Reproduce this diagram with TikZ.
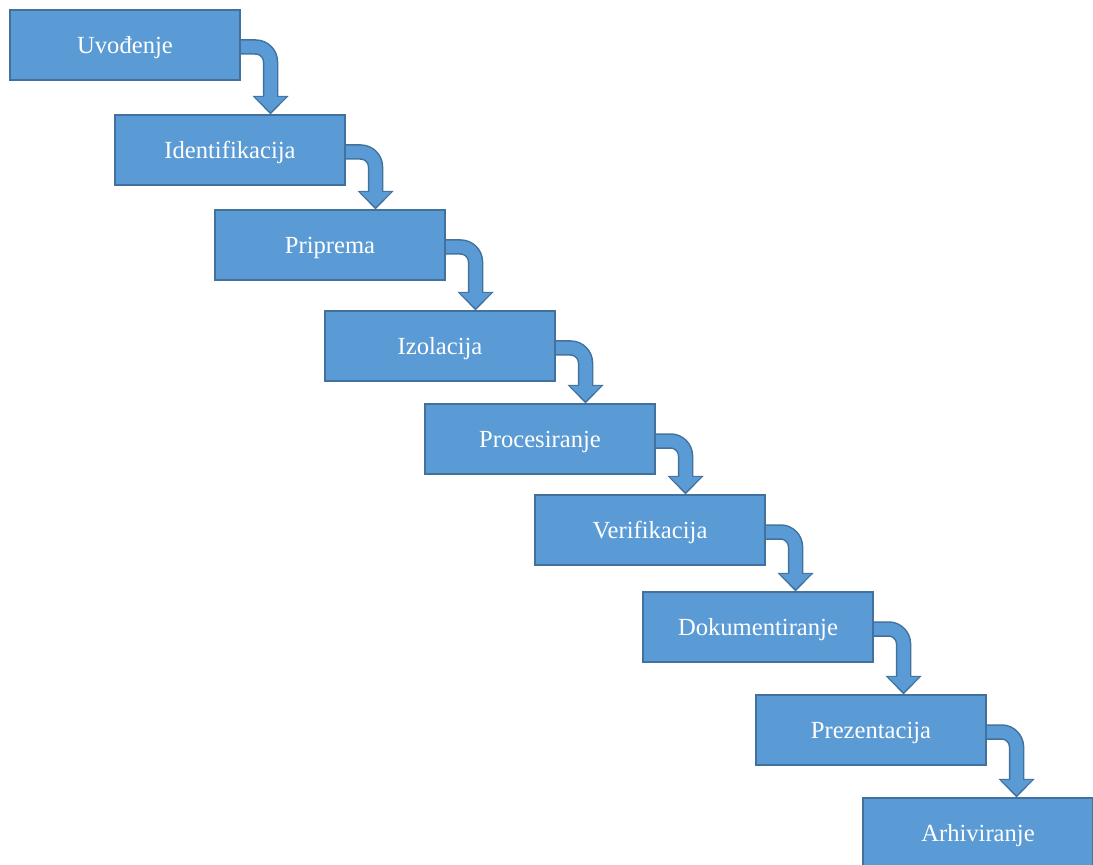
\documentclass[tikz,border=0pt]{standalone}
\usepackage{fontspec}
\setmainfont{Liberation Serif}
\usetikzlibrary{arrows.meta}
\definecolor{boxblue}{HTML}{5B9BD5}
\definecolor{boxedge}{HTML}{41719C}
\tikzset{stepbox/.style={draw=boxedge, line width=0.6pt, fill=boxblue, text=white,
	minimum width=4.6cm, minimum height=1.4cm, inner sep=0pt, text height=13pt, text depth=3pt,
	font=\fontsize{14}{16}\selectfont}}
\tikzset{flowout/.style={draw=boxedge, line width=0.31cm, rounded corners=0.3cm,
	-{Triangle[width=0.72cm, length=0.37cm, line width=0pt]}}}
\tikzset{flowin/.style={draw=boxblue, line width=0.25cm, rounded corners=0.3cm, shorten >=0.05cm,
	-{Triangle[width=0.62cm, length=0.30cm, line width=0pt]}}}

\begin{document}
\begin{tikzpicture}
	\useasboundingbox (0,0) rectangle (21.86,-17.3);
	\node[stepbox] (uvo) at (2.5,-0.9) {Uvođenje};
	\node[stepbox] (ide) at (4.6,-3.0) {Identifikacija};
	\node[stepbox] (pri) at (6.6,-4.9) {Priprema};
	\node[stepbox] (izo) at (8.8,-6.92) {Izolacija};
	\node[stepbox] (pro) at (10.8,-8.78) {Procesiranje};
	\node[stepbox] (ver) at (13.0,-10.6) {Verifikacija};
	\node[stepbox] (dok) at (15.16,-12.54) {Dokumentiranje};
	\node[stepbox] (pre) at (17.42,-14.6) {Prezentacija};
	\node[stepbox] (arh) at (19.56,-16.66) {Arhiviranje};
	% bent arrows between the steps
	\foreach \a/\b in {uvo/ide, ide/pri, pri/izo, izo/pro, pro/ver, ver/dok, dok/pre, pre/arh}
	{
	\coordinate (k) at ([xshift=0.6cm, yshift=-0.04cm]\a.east);
	\draw[flowout] ([xshift=-0.3pt, yshift=-0.04cm]\a.east) -| (k |- \b.north);
	\draw[flowin] ([xshift=0.3pt, yshift=-0.04cm]\a.east) -| (k |- \b.north);
	}
\end{tikzpicture}
\end{document}
